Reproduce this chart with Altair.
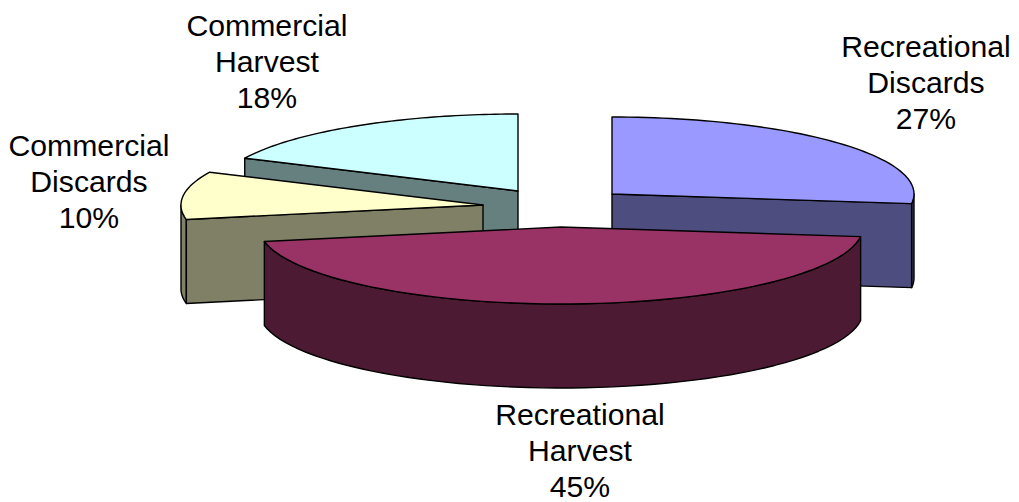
import math
import altair as alt

categories = ["Recreational Discards", "Recreational Harvest", "Commercial Discards", "Commercial Harvest"]
shares = [27, 45, 10, 18]
top_colors = ["#9999FF", "#993366", "#FFFFCC", "#CCFFFF"]
side_colors = ["#4D4D80", "#4D1A33", "#808066", "#668080"]

# layout of the tilted pie (pixels within the page, less the 8px margin)
MARGIN = 8
RX, RY, DEPTH = 302, 77, 84
apex_x = [612, 561, 483, 518]
apex_y = [194, 227, 205, 191]
label_x = [926, 580, 89, 267]
label_y = [48, 416, 147, 27]
draw_order = [3, 2, 0, 1]


def rim(i, a_deg):
    a = math.radians(a_deg)
    return (apex_x[i] - MARGIN + RX * math.sin(a), apex_y[i] - MARGIN - RY * math.cos(a))


def sweep(a0, a1, n=60):
    return [a0 + (a1 - a0) * k / n for k in range(n + 1)]


def feature(ring, part):
    ring = [list(p) for p in ring]
    if ring[0] != ring[-1]:
        ring.append(ring[0])
    return {"type": "Feature",
            "properties": {"part": part},
            "geometry": {"type": "Polygon", "coordinates": [ring]}}


starts, acc = [], 0.0
for s in shares:
    starts.append(acc)
    acc += s * 3.6

features = []
for i in draw_order:
    a0, a1 = starts[i], starts[i] + shares[i] * 3.6
    name = categories[i]
    apex = (apex_x[i] - MARGIN, apex_y[i] - MARGIN)
    # outer wall, only the front half of the ellipse is seen
    lo, hi = max(a0, 90), min(a1, 270)
    if lo < hi:
        edge = [rim(i, a) for a in sweep(lo, hi)]
        features.append(feature(edge + [(x, y + DEPTH) for x, y in reversed(edge)], name + " side"))
    # cut walls that face the viewer
    for a in (a0, a1):
        p = rim(i, a)
        faces = (a == a1 and 0 < a < 180) or (a == a0 and 180 < a < 360)
        if faces:
            features.append(feature([apex, p, (p[0], p[1] + DEPTH), (apex[0], apex[1] + DEPTH)], name + " side"))
    # top face
    features.append(feature([apex] + [rim(i, a) for a in sweep(a0, a1)], name + " top"))

domain, colour_range = [], []
for c, t, d in zip(categories, top_colors, side_colors):
    domain += [c + " top", c + " side"]
    colour_range += [t, d]

shapes = alt.Chart(alt.Data(values=features)).mark_geoshape(
    stroke="black", strokeWidth=1.4, strokeJoin="round"
).encode(
    fill=alt.Fill("properties.part:N", scale=alt.Scale(domain=domain, range=colour_range), legend=None)
)

label_rows = [
    {"label": f"{c} {s}%", "lx": x - MARGIN, "ly": y - MARGIN}
    for c, s, x, y in zip(categories, shares, label_x, label_y)
]
labels = alt.Chart(alt.Data(values=label_rows)).mark_text(
    font="Liberation Sans", fontSize=30.2, color="black", align="center", baseline="middle",
    lineBreak=" ", lineHeight=36
).encode(
    longitude="lx:Q", latitude="ly:Q", text="label:N"
)

chart = alt.layer(shapes, labels).project(
    type="identity", scale=1, translate=[0, 0]
).properties(
    width=1003, height=494, padding=0,
    autosize=alt.AutoSizeParams(type="none"),
    background="white",
).configure_view(stroke=None)

chart.save("out.html", embed_options={"renderer": "svg", "actions": False})
